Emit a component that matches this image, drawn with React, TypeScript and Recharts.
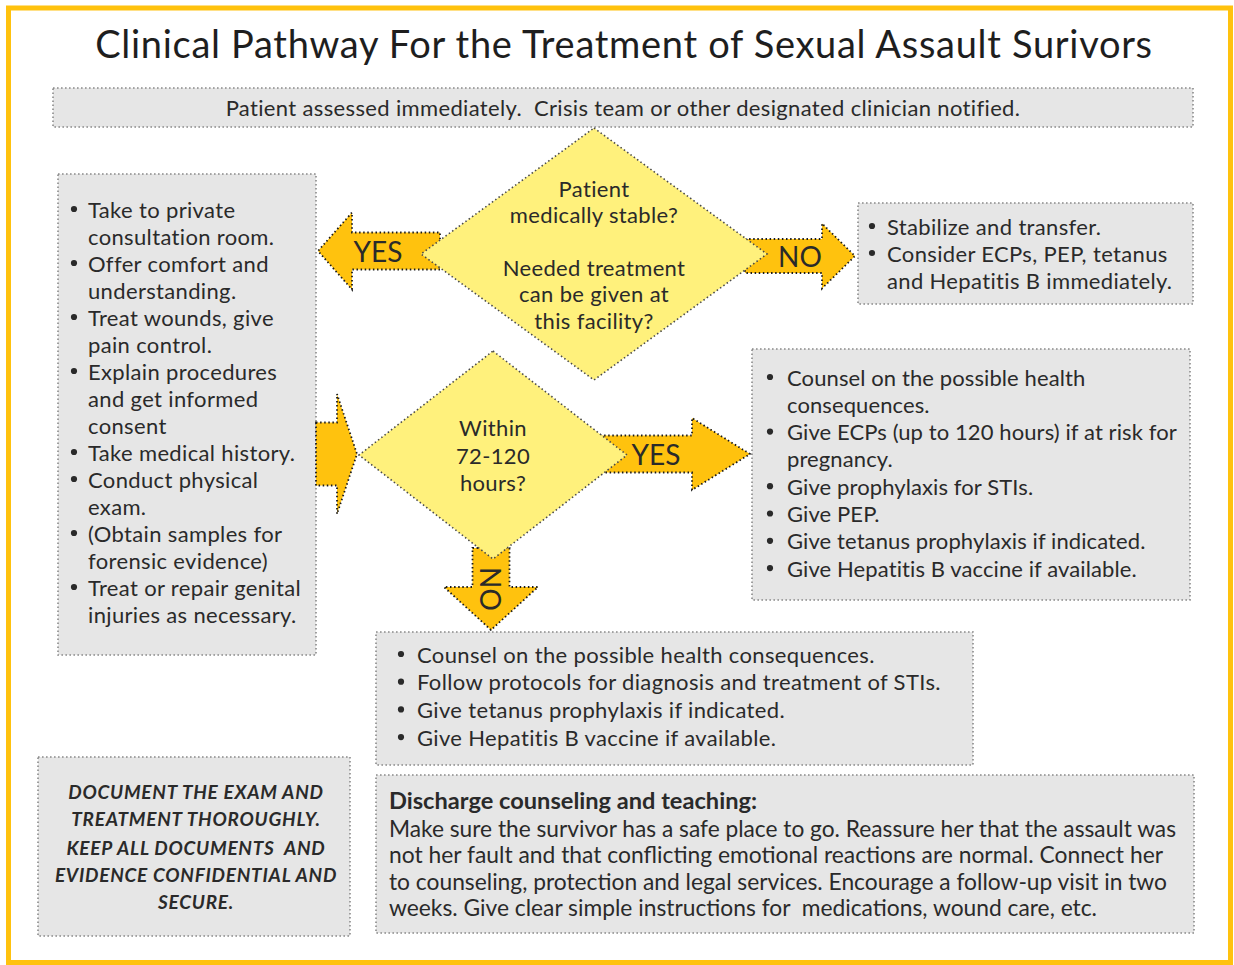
import React from "react";
import { ScatterChart, Scatter, XAxis, YAxis, ReferenceArea } from "recharts";

// ---------- content ----------
const titleText = "Clinical Pathway For the Treatment of Sexual Assault Surivors";
const topNoteText = "Patient assessed immediately.  Crisis team or other designated clinician notified.";
const question1Lines = ["Patient", "medically stable?", "", "Needed treatment", "can be given at", "this facility?"];
const question2Lines = ["Within", "72-120", "hours?"];
const stableItems = [
  ["Take to private", "consultation room."],
  ["Offer comfort and", "understanding."],
  ["Treat wounds, give", "pain control."],
  ["Explain procedures", "and get informed", "consent"],
  ["Take medical history."],
  ["Conduct physical", "exam."],
  ["(Obtain samples for", "forensic evidence)"],
  ["Treat or repair genital", "injuries as necessary."],
];
const unstableItems = [
  ["Stabilize and transfer."],
  ["Consider ECPs, PEP, tetanus", "and Hepatitis B immediately."],
];
const within72Items = [
  ["Counsel on the possible health", "consequences."],
  ["Give ECPs (up to 120 hours) if at risk for", "pregnancy."],
  ["Give prophylaxis for STIs."],
  ["Give PEP."],
  ["Give tetanus prophylaxis if indicated."],
  ["Give Hepatitis B vaccine if available."],
];
const after72Items = [
  ["Counsel on the possible health consequences."],
  ["Follow protocols for diagnosis and treatment of STIs."],
  ["Give tetanus prophylaxis if indicated."],
  ["Give Hepatitis B vaccine if available."],
];
const dischargeTitle = "Discharge counseling and teaching:";
const dischargeLines = [
  "Make sure the survivor has a safe place to go. Reassure her that the assault was",
  "not her fault and that conflicting emotional reactions are normal. Connect her",
  "to counseling, protection and legal services. Encourage a follow-up visit in two",
  "weeks. Give clear simple instructions for  medications, wound care, etc.",
];
const documentLines = [
  "DOCUMENT THE EXAM AND",
  "TREATMENT THOROUGHLY.",
  "KEEP ALL DOCUMENTS  AND",
  "EVIDENCE CONFIDENTIAL AND",
  "SECURE.",
];
const arrowLabels = ["YES", "NO", "", "YES", "NO"];

// ---------- layout & style (data coordinates, mapped via axes) ----------
const W = 1234;
const H = 965;
const FONT = "Lato, 'Noto Sans', sans-serif";
const TEXT = "#2a2a2a";
const BOX_FILL = "#e6e6e6";
const BOX_STROKE = "#8a8a8a";
const GOLD = "#ffc20e";
const DIAMOND = "#fff17c";
const BODY_FS = 22;
const BODY_LS = 0.35;
const dischargeTitleWidth = 368;
const dischargeLineWidths = [787, 774, 778, 708];

const boxLayout = [
  { x: 623, y: 107.5, w: 1140, h: 39, kind: "note", lines: [topNoteText] },
  { x: 187, y: 414.5, w: 258, h: 481, kind: "bullets", items: stableItems, bulletDx: 16, textDx: 30, firstDy: 35, pitch: 27, ls: BODY_LS },
  { x: 1025.5, y: 253.5, w: 335, h: 101, kind: "bullets", items: unstableItems, bulletDx: 14, textDx: 29, firstDy: 23, pitch: 27, ls: BODY_LS },
  { x: 971, y: 474.5, w: 438, h: 251, kind: "bullets", items: within72Items, bulletDx: 18, textDx: 35, firstDy: 28, pitch: 27.3, ls: 0.1 },
  { x: 674.5, y: 698.5, w: 597, h: 133, kind: "bullets", items: after72Items, bulletDx: 25, textDx: 41, firstDy: 22, pitch: 27.7, ls: BODY_LS },
  { x: 785, y: 854, w: 818, h: 158, kind: "discharge", title: dischargeTitle, lines: dischargeLines, textDx: 13, firstDy: 25, pitch: 26.5 },
  { x: 194, y: 846.5, w: 312, h: 179, kind: "doc", lines: documentLines, firstDy: 34, pitch: 27 },
];

const arrowLayout = [
  { x: 379, y: 251, dir: "left", len: 122, shaft: 37, head: 77, headLen: 34, label: arrowLabels[0], labelDx: -1 },
  { x: 800, y: 256, dir: "right", len: 110, shaft: 34, head: 65, headLen: 33, label: arrowLabels[1], labelDx: 0 },
  { x: 336.5, y: 454, dir: "right", len: 41, shaft: 63, head: 120, headLen: 20, label: arrowLabels[2], labelDx: 0 },
  { x: 675, y: 454, dir: "right", len: 150, shaft: 37, head: 72, headLen: 58, label: arrowLabels[3], labelDx: -19 },
  { x: 491, y: 589, dir: "down", len: 82, shaft: 37, head: 94, headLen: 43, label: arrowLabels[4], labelDx: 1 },
];

const diamondLayout = [
  { x: 594, y: 254, hw: 173, hh: 126, lines: question1Lines, pitch: 26.4 },
  { x: 493, y: 455, hw: 134, hh: 104, lines: question2Lines, pitch: 27.5 },
];

const titleLayout = [{ x: 624, y: 43, text: titleText }];

const bodyText = {
  fontFamily: FONT,
  fontSize: BODY_FS,
  letterSpacing: BODY_LS,
  fill: TEXT,
  dominantBaseline: "central" as const,
  style: { whiteSpace: "pre" as const },
};

// ---------- shapes ----------
const BoxShape = (props: any) => {
  const { cx, cy, payload: p } = props;
  const left = cx - p.w / 2;
  const top = cy - p.h / 2;
  const out: any[] = [];
  out.push(
    <rect key="r" x={left} y={top} width={p.w} height={p.h} fill={BOX_FILL} stroke={BOX_STROKE}
      strokeWidth={1.6} strokeDasharray="1.6 2.4" />
  );
  if (p.kind === "note") {
    out.push(
      <text key="t" x={cx} y={cy} textAnchor="middle" {...bodyText}>{p.lines[0]}</text>
    );
  } else if (p.kind === "bullets") {
    let row = 0;
    p.items.forEach((item: string[], i: number) => {
      item.forEach((line: string, j: number) => {
        const y = top + p.firstDy + row * p.pitch;
        if (j === 0) {
          out.push(<circle key={`b${i}`} cx={left + p.bulletDx} cy={y} r={3.1} fill={TEXT} />);
        }
        out.push(
          <text key={`t${i}-${j}`} x={left + p.textDx} y={y} {...bodyText} letterSpacing={p.ls}>{line}</text>
        );
        row += 1;
      });
    });
  } else if (p.kind === "discharge") {
    out.push(
      <text key="h" x={left + p.textDx} y={top + p.firstDy} {...bodyText} letterSpacing={0} fontSize={22}
        fontWeight={700} textLength={dischargeTitleWidth} lengthAdjust="spacingAndGlyphs">{p.title}</text>
    );
    p.lines.forEach((line: string, i: number) => {
      out.push(
        <text key={`l${i}`} x={left + p.textDx} y={top + p.firstDy + (i + 1) * p.pitch + 1.5}
          {...bodyText} letterSpacing={0} fontSize={22.5} textLength={dischargeLineWidths[i]}
          lengthAdjust="spacingAndGlyphs">{line}</text>
      );
    });
  } else if (p.kind === "doc") {
    p.lines.forEach((line: string, i: number) => {
      out.push(
        <text key={`d${i}`} x={cx + 2} y={top + p.firstDy + i * p.pitch + (i >= 2 ? 2 : 0)} textAnchor="middle"
          {...bodyText} fontSize={19} letterSpacing={0.75} fontStyle="italic" fontWeight={700}>{line}</text>
      );
    });
  }
  return <g>{out}</g>;
};

const ArrowShape = (props: any) => {
  const { cx, cy, payload: p } = props;
  const L = p.len / 2;
  const s = p.shaft / 2;
  const hd = p.head / 2;
  const hb = L - p.headLen;
  const pts = [
    [-L, -s], [hb, -s], [hb, -hd], [L, 0], [hb, hd], [hb, s], [-L, s],
  ].map((q) => q.join(",")).join(" ");
  const angle = p.dir === "left" ? 180 : p.dir === "down" ? 90 : 0;
  return (
    <g>
      <polygon transform={`translate(${cx},${cy}) rotate(${angle})`} points={pts} fill={GOLD}
        stroke="#1a1a1a" strokeWidth={1.8} strokeDasharray="1.5 2.6" />
      {p.label ? (
        <text transform={`translate(${cx + (p.dir === "down" ? 0 : p.labelDx)},${cy}) rotate(${p.dir === "down" ? 90 : 0})`}
          textAnchor="middle" dominantBaseline="central" fontFamily={FONT} fontSize={28} fill={TEXT}>{p.label}</text>
      ) : null}
    </g>
  );
};

const DiamondShape = (props: any) => {
  const { cx, cy, payload: p } = props;
  const pts = `${cx},${cy - p.hh} ${cx + p.hw},${cy} ${cx},${cy + p.hh} ${cx - p.hw},${cy}`;
  const n = p.lines.length;
  return (
    <g>
      <polygon points={pts} fill={DIAMOND} stroke="#4a4a4a" strokeWidth={1.6} strokeDasharray="1.5 2.6" />
      {p.lines.map((line: string, i: number) => (
        <text key={i} x={cx} y={cy + (i - (n - 1) / 2) * p.pitch} textAnchor="middle" {...bodyText}>{line}</text>
      ))}
    </g>
  );
};

const TitleShape = (props: any) => {
  const { cx, cy, payload: p } = props;
  return (
    <text x={cx} y={cy} textAnchor="middle" dominantBaseline="central" fontFamily={FONT} fontSize={38}
      letterSpacing={0.7} fill="#1e1e1e">{p.text}</text>
  );
};

export default function App() {
  return (
    <div style={{ position: "absolute", left: 0, top: 0, width: W, height: H, background: "#fff" }}>
      <ScatterChart width={W} height={H} margin={{ top: 0, right: 0, bottom: 0, left: 0 }}>
        <XAxis type="number" dataKey="x" domain={[0, W]} hide />
        <YAxis type="number" dataKey="y" domain={[0, H]} reversed hide />
        <ReferenceArea x1={8.5} x2={1230.5} y1={8} y2={962.5} fill="none" stroke={GOLD} strokeWidth={5}
          ifOverflow="visible" />
        <Scatter data={boxLayout} shape={BoxShape} isAnimationActive={false} />
        <Scatter data={arrowLayout} shape={ArrowShape} isAnimationActive={false} />
        <Scatter data={diamondLayout} shape={DiamondShape} isAnimationActive={false} />
        <Scatter data={titleLayout} shape={TitleShape} isAnimationActive={false} />
      </ScatterChart>
    </div>
  );
}
